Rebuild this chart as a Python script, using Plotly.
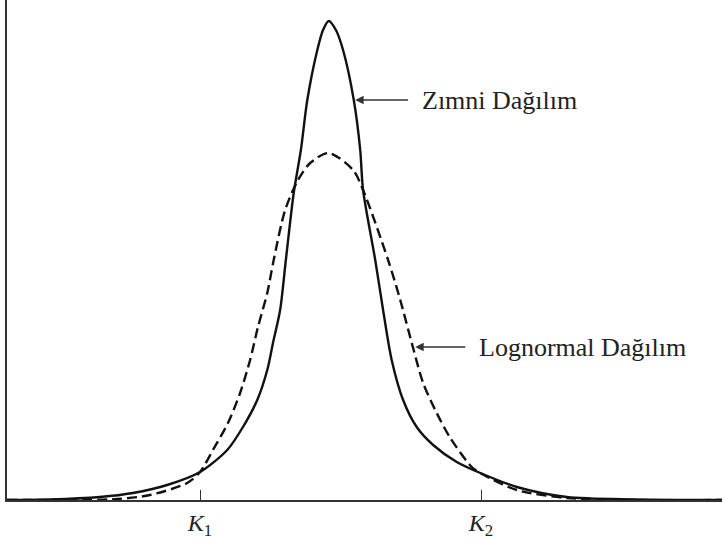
import plotly.graph_objects as go

# Strike axis (arbitrary units) and density values for the two distributions
strike_implied = [0.0, 6.0, 13.0, 17.6, 22.4, 27.0, 30.8, 33.0, 35.0, 36.4, 37.2, 38.2,
                  39.0, 40.1, 41.1, 42.0, 43.4, 44.2, 45.0, 46.0, 47.0, 48.5, 49.4, 49.8,
                  51.5, 52.6, 53.8, 55.4, 57.3, 59.6, 62.9, 66.2, 71.3, 78.3, 87.6, 100.0]
density_implied = [0.0, 0.001, 0.006, 0.014, 0.030, 0.056, 0.100, 0.146, 0.200, 0.260, 0.314, 0.380,
                   0.480, 0.614, 0.700, 0.800, 0.900, 0.940, 0.958, 0.940, 0.900, 0.800, 0.700, 0.620,
                   0.480, 0.380, 0.280, 0.200, 0.146, 0.110, 0.076, 0.054, 0.026, 0.006, 0.001, 0.0]

strike_lognormal = [0.0, 15.4, 20.0, 25.2, 27.0, 28.8, 30.9, 32.6, 34.0, 35.1, 36.4, 37.3,
                    38.9, 40.7, 42.4, 45.0, 48.4, 49.8, 53.3, 55.0, 56.8, 58.2, 60.1,
                    62.0, 65.0, 66.2, 71.3, 78.3, 88.5, 100.0]
density_lognormal = [0.0, 0.002, 0.010, 0.034, 0.056, 0.100, 0.154, 0.214, 0.280, 0.346, 0.414, 0.480,
                     0.580, 0.640, 0.674, 0.694, 0.660, 0.620, 0.480, 0.400, 0.304, 0.234, 0.174,
                     0.124, 0.066, 0.054, 0.020, 0.004, 0.0, 0.0]

tick_values = [27.0, 66.3]
tick_labels = ["<i>K</i><sub>1</sub>", "<i>K</i><sub>2</sub>"]

label_implied = "Zımni Dağılım"
label_lognormal = "Lognormal Dağılım"

SERIF = "Liberation Serif"

fig = go.Figure()
fig.add_trace(go.Scatter(
    x=strike_lognormal, y=density_lognormal, mode="lines",
    line=dict(color="#111", width=2.4, dash="10px,5px", shape="spline", smoothing=0.8),
    hoverinfo="skip", showlegend=False,
))
fig.add_trace(go.Scatter(
    x=strike_implied, y=density_implied, mode="lines",
    line=dict(color="#111", width=2.4, shape="spline", smoothing=0.8),
    hoverinfo="skip", showlegend=False,
))

# Labels to the right of each curve, with an arrow pointing at the curve
label_style = dict(showarrow=True, arrowhead=2, arrowsize=1.2, arrowwidth=1.4,
                   arrowcolor="#333", axref="x", ayref="y",
                   xanchor="left", yanchor="middle", borderpad=13,
                   font=dict(family=SERIF, size=26, color="#222"))
fig.add_annotation(x=48.7, y=0.800, ax=56.1, ay=0.800, text=label_implied, **label_style)
fig.add_annotation(x=57.1, y=0.306, ax=64.1, ay=0.306, text=label_lognormal, **label_style)

fig.update_xaxes(range=[0, 100], showline=True, linecolor="#333", linewidth=2,
                 showgrid=False, zeroline=False, tickmode="array",
                 tickvals=tick_values, ticktext=tick_labels,
                 ticks="inside", ticklen=10, tickwidth=1, tickcolor="#333",
                 tickfont=dict(family=SERIF, size=24, color="#222"))
fig.update_yaxes(range=[0, 1], showline=True, linecolor="#333", linewidth=1.5,
                 showgrid=False, zeroline=False, showticklabels=False, ticks="")

fig.update_layout(
    width=724, height=541,
    margin=dict(l=7, r=2, t=0, b=41),
    paper_bgcolor="white", plot_bgcolor="white",
)

fig.write_html("out.html")
